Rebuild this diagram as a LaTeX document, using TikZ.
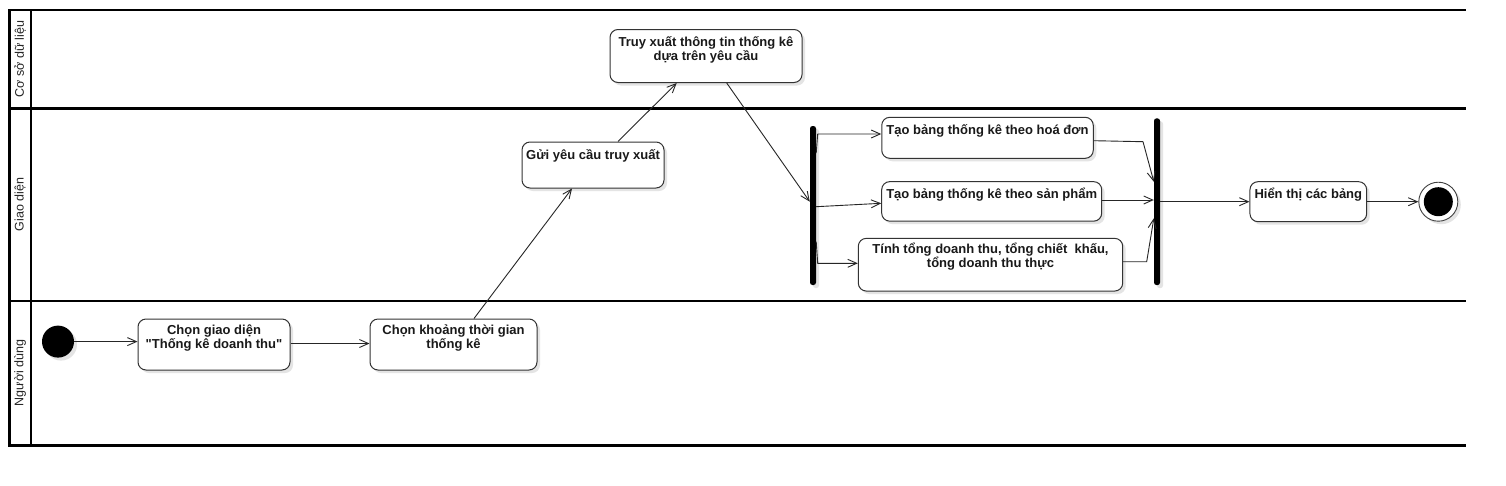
\documentclass[tikz,border=0pt]{standalone}
\usepackage{fontspec}
\setmainfont{Liberation Sans}
\usetikzlibrary{arrows.meta,shadows,calc}
\newcommand{\mlines}[1]{\begin{tabular}[t]{@{}c@{}}#1\end{tabular}}
\begin{document}
\begin{tikzpicture}[x=1pt,y=-1pt,
  shad/.style={drop shadow={shadow xshift=3pt,shadow yshift=-3pt,fill=black!30,opacity=0.35}},
  act/.style={draw=black!80,line width=1pt,rounded corners=8pt,fill=white,shad,inner sep=0pt},
  txt/.style={font=\fontsize{13}{13.5}\selectfont\bfseries,anchor=base,inner sep=0pt,text=black!90},
  bar/.style={fill=black,rounded corners=2.5pt,minimum width=6pt,inner sep=0pt,shad},
  lane/.style={line width=2.2pt,black},
  lanetxt/.style={font=\fontsize{12.5}{14}\selectfont,rotate=90,inner sep=0pt,text=black!85},
  flow/.style={draw=black!85,line width=0.9pt,-{Straight Barb[length=9pt,width=8pt]}}
]
\useasboundingbox (0,0) rectangle (1506,485);
\fill[white] (0,0) rectangle (1506,485);

% swimlanes
\draw[lane] (9,10) -- (1466,10);
\draw[lane] (9,108.5) -- (1466,108.5);
\draw[lane] (9,301) -- (1466,301);
\draw[lane] (9,445.5) -- (1466,445.5);
\draw[lane] (9.5,9) -- (9.5,446.6);
\draw[lane] (31,10) -- (31,445.5);
\node[lanetxt] (l1) at (20,59) {Cơ sở dữ liệu};
\node[lanetxt] (l2) at (20,204.5) {Giao diện};
\node[lanetxt] (l3) at (20,373) {Người dùng};

% activities
\node[act,minimum width=152pt,minimum height=51pt] (b1) at (214,344.5) {};
\node[txt] (t1) at ([yshift=-16pt]b1.north) {\mlines{Chọn giao diện\\\textquotedbl Thống kê doanh thu\textquotedbl}};
\node[act,minimum width=167pt,minimum height=51pt] (b2) at (453.5,344.5) {};
\node[txt] (t2) at ([yshift=-16pt]b2.north) {\mlines{Chọn khoảng thời gian\\thống kê}};
\node[act,minimum width=142pt,minimum height=46pt] (b3) at (593,165) {};
\node[txt] (t3) at ([yshift=-18pt]b3.north) {\mlines{Gửi yêu cầu truy xuất}};
\node[act,minimum width=192pt,minimum height=53pt] (b4) at (706,56) {};
\node[txt] (t4) at ([yshift=-17.5pt]b4.north) {\mlines{Truy xuất thông tin thống kê\\dựa trên yêu cầu}};
\node[act,minimum width=211.5pt,minimum height=41pt] (b5) at (987.5,137.8) {};
\node[txt] (t5) at ([yshift=-17.5pt]b5.north) {\mlines{Tạo bảng thống kê theo hoá đơn}};
\node[act,minimum width=220pt,minimum height=39.5pt] (b6) at (991.7,201.4) {};
\node[txt] (t6) at ([yshift=-17.5pt]b6.north) {\mlines{Tạo bảng thống kê theo sản phẩm}};
\node[act,minimum width=264.4pt,minimum height=52.7pt] (b7) at (990.5,264.7) {};
\node[txt] (t7) at ([yshift=-15.5pt]b7.north) {\mlines{Tính tổng doanh thu, tổng chiết\ \ khấu,\\tổng doanh thu thực}};
\node[act,minimum width=116.7pt,minimum height=40pt] (b8) at (1308.3,201.7) {};
\node[txt] (t8) at ([yshift=-17.5pt]b8.north) {\mlines{Hiển thị các bảng}};

% bars
\node[bar,minimum height=159pt] (fork) at (813,205.5) {};
\node[bar,minimum height=166.7pt] (join) at (1157,201.7) {};

% start / end
\node[circle,fill=black,minimum size=32pt,inner sep=0pt,shad] (init) at (58,341.6) {};
\node[circle,draw=black!75,line width=0.9pt,fill=white,minimum size=39pt,inner sep=0pt,shad] (final) at (1438.3,201.7) {};
\node[circle,fill=black,minimum size=29pt,inner sep=0pt] (finalin) at (final) {};

% flows
\draw[flow] (init.east) -- (b1.west |- init);
\draw[flow] (b1.east |- 0,343.5) -- (b2.west |- 0,343.5);
\draw[flow] ([xshift=20.5pt]b2.north) -- ([xshift=-21pt]b3.south);
\draw[flow] ([xshift=25pt]b3.north) -- ([xshift=-29.3pt]b4.south);
\draw[flow] ([xshift=20.7pt]b4.south) -- (fork.west |- 0,201.7);
\draw[flow] (fork.east |- 0,153) -- ++(1.5,-19) -- (b5.west |- 0,134);
\draw[flow] (fork.east |- 0,206.7) -- (b6.west |- 0,203.3);
\draw[flow] (fork.east |- 0,241.7) -- ++(1.5,21.6) -- (b7.west |- 0,263.3);
\draw[flow] (b5.east |- 0,140.7) -- (1143,141.7) -- (join.west |- 0,181.7);
\draw[flow] (b6.east |- 0,200) -- (join.west |- 0,200);
\draw[flow] (b7.east |- 0,261.7) -- (1146.7,261.7) -- (join.west |- 0,218.3);
\draw[flow] (join.east |- b8) -- (b8.west);
\draw[flow] (b8.east) -- (final.west);
\end{tikzpicture}
\end{document}
